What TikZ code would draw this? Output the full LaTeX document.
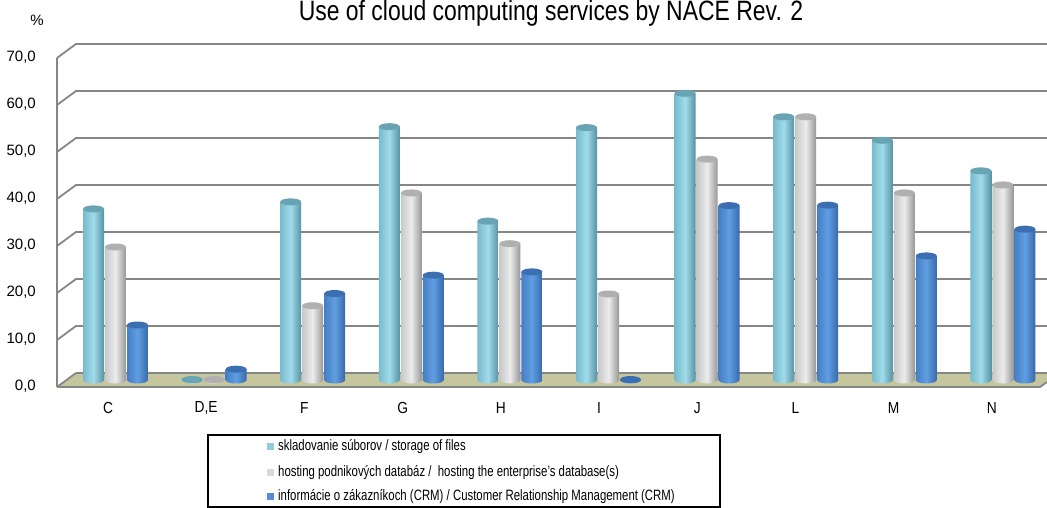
\documentclass[tikz,border=0pt]{standalone}
\usepackage{fontspec}
\setmainfont{Liberation Sans}
\newfontfamily\titlefont[FakeStretch=0.82]{Liberation Sans}
\newfontfamily\catfont[FakeStretch=0.86]{Liberation Sans}
\newfontfamily\legendfont[FakeStretch=0.76]{Liberation Sans}
\usetikzlibrary{positioning}

\definecolor{gridgray}{RGB}{134,134,134}
\definecolor{floorkhaki}{RGB}{198,198,158}
\definecolor{lbL}{RGB}{120,186,204}
\definecolor{lbM}{RGB}{160,220,234}
\definecolor{lbR}{RGB}{86,146,162}
\definecolor{lbT}{RGB}{104,164,180}
\definecolor{grL}{RGB}{200,200,200}
\definecolor{grM}{RGB}{236,236,236}
\definecolor{grR}{RGB}{150,150,150}
\definecolor{grT}{RGB}{176,176,176}
\definecolor{blL}{RGB}{70,126,196}
\definecolor{blM}{RGB}{96,158,226}
\definecolor{blR}{RGB}{56,104,170}
\definecolor{blT}{RGB}{60,110,178}
\definecolor{lbKey}{RGB}{146,205,220}
\definecolor{grKey}{RGB}{217,217,217}
\definecolor{blKey}{RGB}{85,142,213}

\tikzset{gridline/.style={gridgray, line width=1.8pt},
  ylab/.style={anchor=east, inner sep=0pt, font=\fontsize{15}{18}\selectfont},
  catlab/.style={inner sep=0pt, font=\catfont\fontsize{16}{19}\selectfont},
  keytext/.style={anchor=west, inner sep=0pt, font=\legendfont\fontsize{15}{18}\selectfont},
  keymark/.style={minimum size=7pt, inner sep=0pt}}

% one cylinder: centre x, value, colour prefix
\newcommand{\barcyl}[3]{%
  \pgfmathsetmacro{\ytop}{128+4.7*#2}
  \shade[left color=#3L, right color=#3R, middle color=#3M]
    ({#1-10.5},128) -- ({#1-10.5},\ytop) -- ({#1+10.5},\ytop) -- ({#1+10.5},128)
    arc[start angle=0, end angle=-180, x radius=10.5, y radius=3.5] -- cycle;
  \fill[#3T] (#1,\ytop) ellipse[x radius=10.5, y radius=3.5];
}

\begin{document}
\begin{tikzpicture}[x=1pt, y=1pt]
  \useasboundingbox (0,0) rectangle (1047,508);

  % walls and grid
  \foreach \v in {10,20,...,70} {
    \draw[gridline] (57,{121+4.7*\v}) -- (76,{135+4.7*\v}) -- (1047,{135+4.7*\v});
  }
  \fill[floorkhaki] (57,121) -- (1040,121) -- (1059,135) -- (76,135) -- cycle;
  \draw[gridline] (76,135) -- (1047,135);
  \draw[gridline] (57,121) -- (1040,121) -- (1047,126);
  \draw[gridline] (57,121) -- (76,135);
  \draw[gridline] (57,121) -- (57,450);

  % y axis
  \foreach \v in {0,10,...,70} {
    \node[ylab] (y\v) at (36,{122+4.7*\v}) {\v,0};
  }
  \node[font=\fontsize{15}{18}\selectfont] (unit) at (37,488) {\%};
  \node[anchor=base, font=\titlefont\fontsize{28}{32}\selectfont] (title) at (551,487)
    {Use of cloud computing services by NACE Rev. 2};

  % categories
  \foreach \lab [count=\i from 0] in {C,{D,E},F,G,H,I,J,L,M,N} {
    \node[catlab] (cat\i) at ({108+98.2*\i},100) {\lab};
  }

  % bars
  \foreach \a/\b/\c [count=\i from 0] in {36.4/28.3/11.7, 0.1/0.1/2.3,
      37.9/15.8/18.4, 53.9/39.8/22.3, 33.8/29/23, 53.7/18.3/0.1,
      61/47/37.1, 56/56/37.2, 51/39.8/26.4, 44.5/41.5/32.1} {
    \pgfmathsetmacro{\gx}{115.5+98.6*\i}
    \barcyl{\gx-22}{\a}{lb}
    \barcyl{\gx}{\b}{gr}
    \barcyl{\gx+22}{\c}{bl}
  }

  % legend
  \draw[black, line width=1.5pt] (208,1) rectangle (720,73);
  \node[keytext] (key1) at (278,61) {skladovanie súborov / storage of files};
  \node[keytext] (key2) at (278,35) {hosting podnikových databáz /\ \ hosting the enterprise’s database(s)};
  \node[keytext] (key3) at (278,11) {informácie o zákazníkoch (CRM) / Customer Relationship Management (CRM)};
  \node[keymark, fill=lbKey, left=3.5pt of key1] (mark1) {};
  \node[keymark, fill=grKey, left=3.5pt of key2] (mark2) {};
  \node[keymark, fill=blKey, left=3.5pt of key3] (mark3) {};
\end{tikzpicture}
\end{document}
